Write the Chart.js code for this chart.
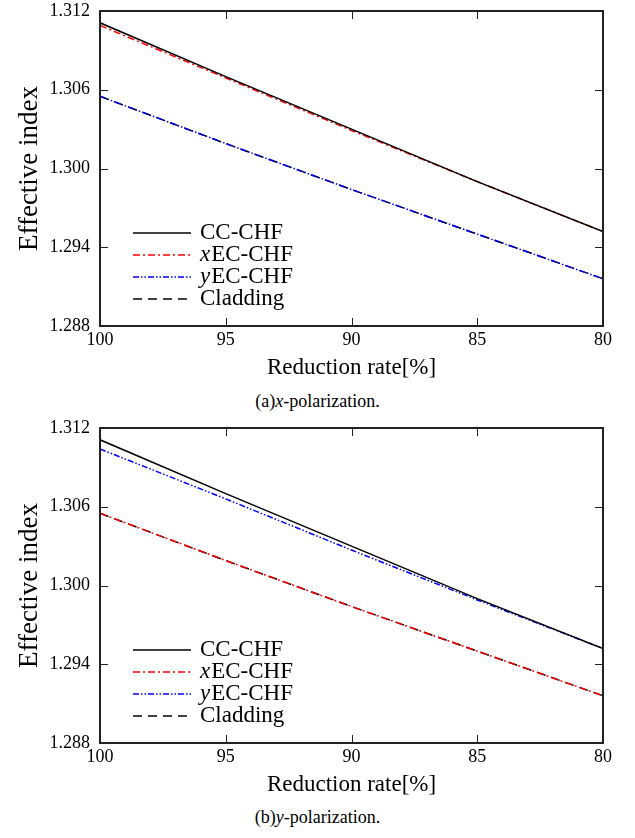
<!DOCTYPE html>
<html>
<head>
<meta charset="utf-8">
<script src="https://cdn.jsdelivr.net/npm/chart.js@4.4.0/dist/chart.umd.min.js"></script>
<style>
  body { margin: 0; background: #fff; width: 635px; height: 838px; position: relative; overflow: hidden;
         font-family: "Liberation Serif", serif; }
  .panel { position: absolute; left: 0; width: 635px; height: 390px; }
  .caption { position: absolute; left: 0; width: 635px; text-align: center;
             font-family: "Liberation Serif", serif; font-size: 18px; color: #000; }
</style>
</head>
<body>
<div class="panel" style="top:0"><canvas id="chartA" width="635" height="390"></canvas></div>
<div class="caption" style="top:391px">(a)<i>x</i>-polarization.</div>
<div class="panel" style="top:417px"><canvas id="chartB" width="635" height="390"></canvas></div>
<div class="caption" style="top:807px">(b)<i>y</i>-polarization.</div>
<script>
// Reduction rate [%]
const rates = [100, 95, 90, 85, 80];

// (a) x-polarization
const ccX = [1.3111, 1.3070, 1.3030, 1.2990, 1.2952];
const xecX = [1.3109, 1.3069, 1.3029, 1.2990, 1.2952];
const yecX = [1.3055, 1.3019, 1.2984, 1.2950, 1.2916];
const cladX = [1.3055, 1.3019, 1.2984, 1.2950, 1.2916];

// (b) y-polarization
const ccY = [1.3111, 1.3070, 1.3030, 1.2990, 1.2952];
const xecY = [1.3055, 1.3019, 1.2984, 1.2950, 1.2916];
const yecY = [1.3104, 1.3066, 1.3027, 1.2989, 1.2952];
const cladY = [1.3055, 1.3019, 1.2984, 1.2950, 1.2916];

const yTicks = [1.288, 1.294, 1.300, 1.306, 1.312];
const xTicks = [100, 95, 90, 85, 80];

const serif = "'Liberation Serif', serif";

function pts(values) {
  return rates.map((r, i) => ({ x: r, y: values[i] }));
}

// frame with inward ticks on all four sides
const framePlugin = {
  id: 'frame',
  afterDatasetsDraw(chart) {
    const { ctx, chartArea: a, scales } = chart;
    ctx.save();
    ctx.strokeStyle = '#222';
    ctx.lineWidth = 1;
    const len = 8;
    ctx.beginPath();
    yTicks.forEach(v => {
      const y = Math.round(scales.y.getPixelForValue(v)) + 0.5;
      ctx.moveTo(a.left, y); ctx.lineTo(a.left + len, y);
      ctx.moveTo(a.right, y); ctx.lineTo(a.right - len, y);
    });
    xTicks.forEach(v => {
      const x = Math.round(scales.x.getPixelForValue(v)) + 0.5;
      ctx.moveTo(x, a.top); ctx.lineTo(x, a.top + len);
      ctx.moveTo(x, a.bottom); ctx.lineTo(x, a.bottom - len);
    });
    ctx.stroke();
    ctx.lineWidth = 2;
    ctx.strokeRect(a.left, a.top, a.right - a.left, a.bottom - a.top);
    ctx.restore();
  }
};

// legend drawn inside the plot area, lower left
const legendPlugin = {
  id: 'innerLegend',
  afterDatasetsDraw(chart) {
    const { ctx, chartArea: a } = chart;
    ctx.save();
    const x0 = a.left + 33, x1 = a.left + 91, tx = a.left + 100;
    chart.data.datasets.forEach((ds, i) => {
      const y = a.top + 222 + i * 22;
      ctx.strokeStyle = ds.borderColor;
      ctx.lineWidth = ds.borderWidth;
      ctx.setLineDash(ds.borderDash || []);
      ctx.beginPath();
      ctx.moveTo(x0, y); ctx.lineTo(x1, y);
      ctx.stroke();
      ctx.setLineDash([]);
      ctx.fillStyle = '#000';
      ctx.textBaseline = 'middle';
      ctx.textAlign = 'left';
      let x = tx;
      if (ds.italicPrefix) {
        ctx.font = 'italic 23px ' + serif;
        ctx.fillText(ds.italicPrefix, x, y);
        x += ctx.measureText(ds.italicPrefix).width + 1;
      }
      ctx.font = '23px ' + serif;
      ctx.fillText(ds.label.slice(ds.italicPrefix ? ds.italicPrefix.length : 0), x, y);
    });
    ctx.restore();
  }
};

function makeChart(id, cc, xec, yec, clad) {
  const ctx = document.getElementById(id).getContext('2d');
  return new Chart(ctx, {
    type: 'line',
    data: {
      datasets: [
        { label: 'CC-CHF', data: pts(cc), borderColor: '#000000', borderWidth: 1.5 },
        { label: 'xEC-CHF', italicPrefix: 'x', data: pts(xec), borderColor: '#ff0000', borderWidth: 1.5, borderDash: [7, 3, 2, 3] },
        { label: 'yEC-CHF', italicPrefix: 'y', data: pts(yec), borderColor: '#0000ff', borderWidth: 1.5, borderDash: [6, 2, 1.5, 2, 1.5, 2] },
        { label: 'Cladding', data: pts(clad), borderColor: '#000000', borderWidth: 1.5, borderDash: [9, 6] }
      ]
    },
    options: {
      responsive: false,
      animation: false,
      elements: { point: { radius: 0 }, line: { tension: 0 } },
      layout: { padding: { top: 11, right: 32, left: 0, bottom: 0 } },
      scales: {
        x: {
          type: 'linear',
          reverse: true,
          min: 80,
          max: 100,
          afterBuildTicks: s => { s.ticks = xTicks.map(v => ({ value: v })); },
          afterFit: s => { s.height = 64; s.paddingLeft = 0; s.paddingRight = 0; },
          grid: { display: false, tickLength: 0 },
          border: { display: false },
          ticks: { color: '#000', font: { family: serif, size: 18 }, padding: 3 },
          title: { display: true, text: 'Reduction rate[%]', color: '#000', font: { family: serif, size: 23 }, padding: { top: 0, bottom: 8 } }
        },
        y: {
          min: 1.288,
          max: 1.312,
          afterBuildTicks: s => { s.ticks = yTicks.map(v => ({ value: v })); },
          afterFit: s => { s.width = 100; s.paddingTop = 0; s.paddingBottom = 0; },
          grid: { display: false, tickLength: 0 },
          border: { display: false },
          ticks: { color: '#000', font: { family: serif, size: 18 }, padding: 10, callback: v => v.toFixed(3) },
          title: { display: true, text: 'Effective index', color: '#000', font: { family: serif, size: 27 }, padding: { top: 14, bottom: 0 } }
        }
      },
      plugins: {
        legend: { display: false },
        tooltip: { enabled: false }
      }
    },
    plugins: [framePlugin, legendPlugin]
  });
}

function drawAll() {
  makeChart('chartA', ccX, xecX, yecX, cladX);
  makeChart('chartB', ccY, xecY, yecY, cladY);
}

if (document.fonts && document.fonts.load) {
  Promise.all([
    document.fonts.load('18px "Liberation Serif"'),
    document.fonts.load('italic 18px "Liberation Serif"')
  ]).then(drawAll, drawAll);
} else {
  drawAll();
}
</script>
</body>
</html>
